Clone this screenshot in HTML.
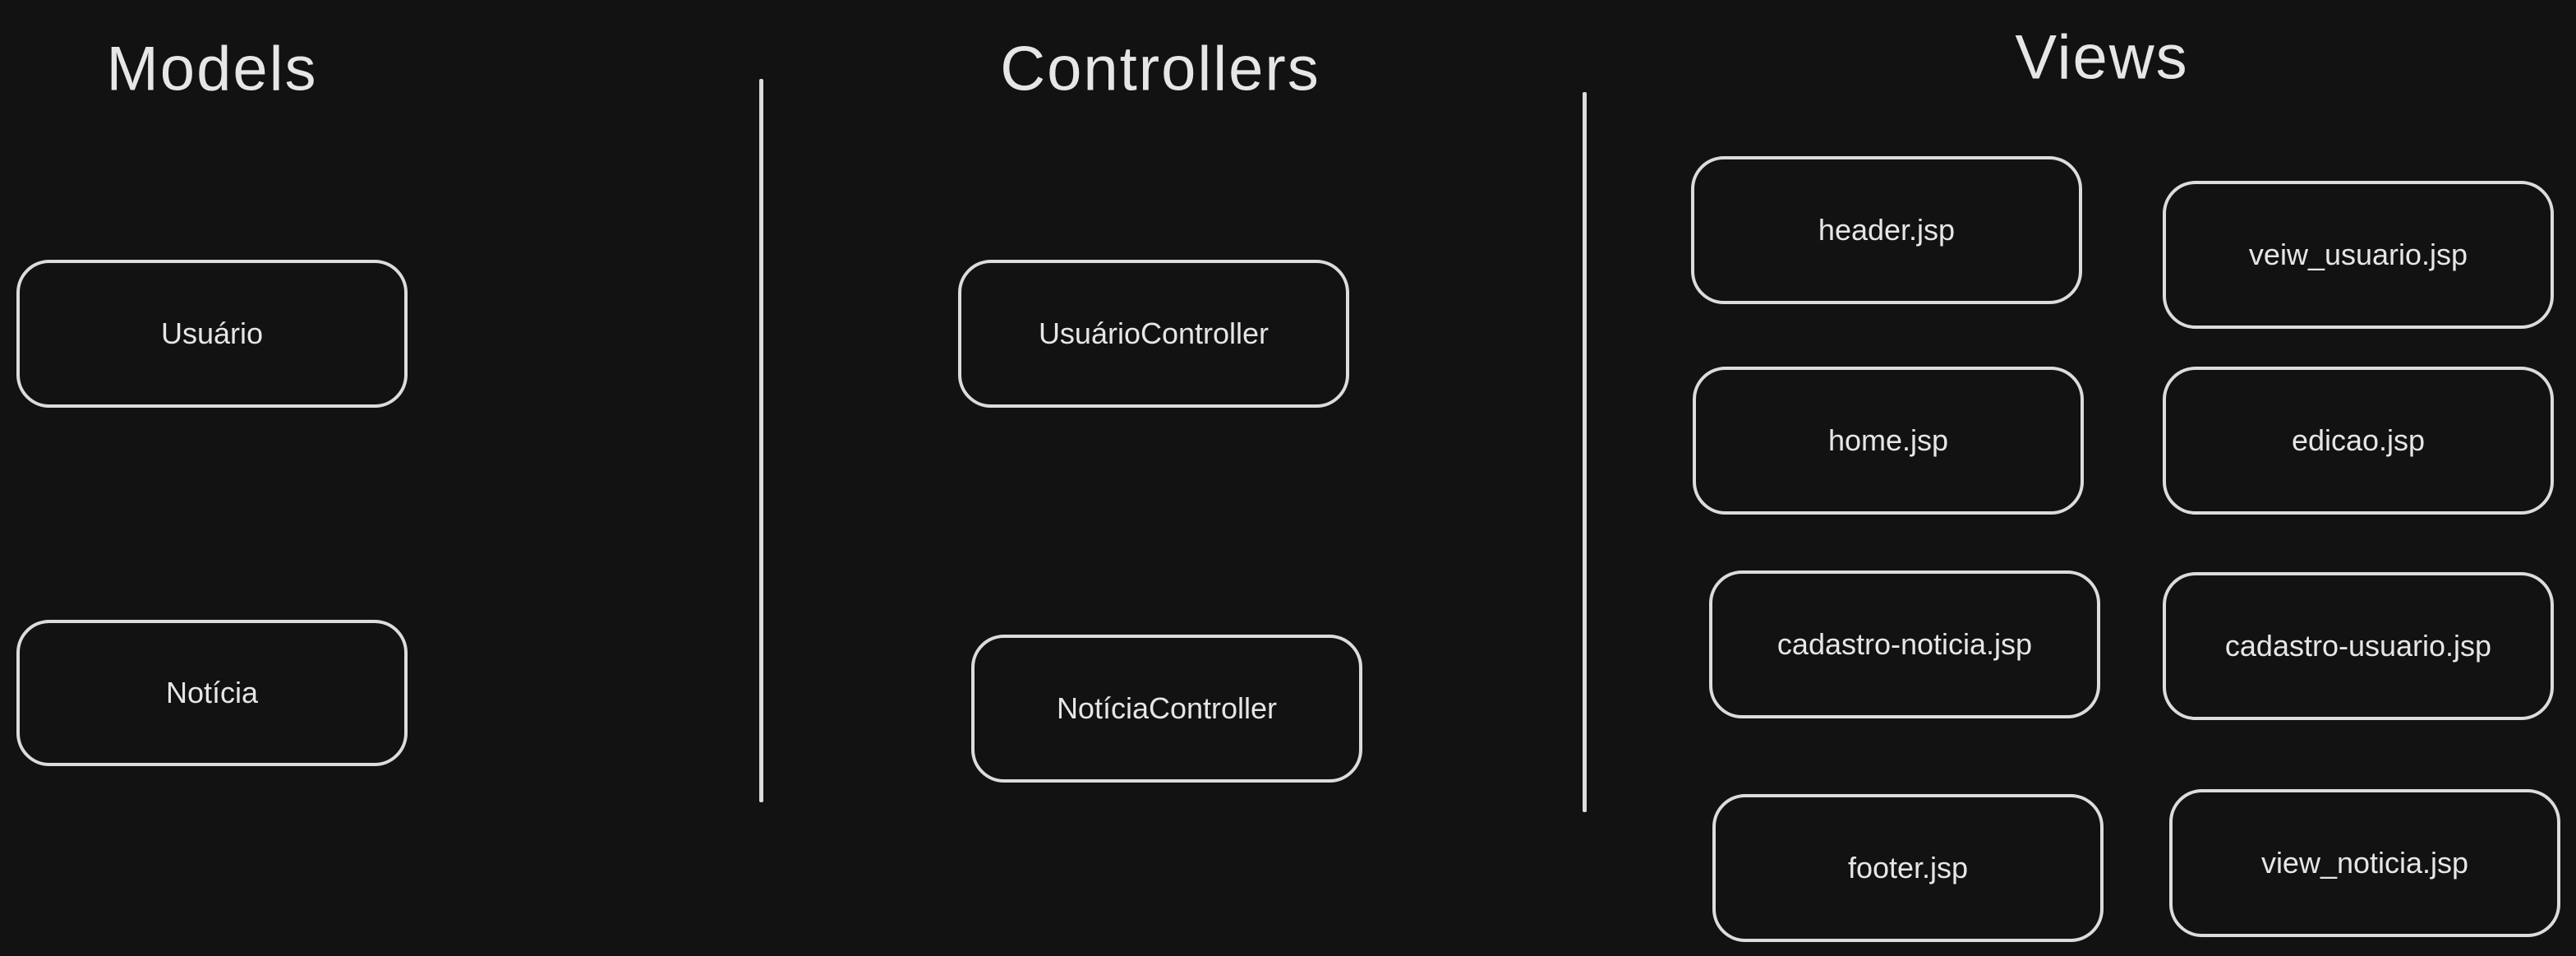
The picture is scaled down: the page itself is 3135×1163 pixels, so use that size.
<!DOCTYPE html>
<html><head><meta charset="utf-8"><style>
html,body{margin:0;padding:0;background:#121212;}
body{width:3135px;height:1163px;position:relative;overflow:hidden;font-family:"Liberation Sans","DejaVu Sans",sans-serif;color:#e6e6e6;}
.t{position:absolute;font-size:76px;transform:translate(-50%,-50%);white-space:nowrap;letter-spacing:2px;}
.b{position:absolute;box-sizing:border-box;border:4px solid #dcdcdc;border-radius:40px;display:flex;align-items:center;justify-content:center;font-size:36px;white-space:nowrap;}
.l{position:absolute;width:5px;background:#dcdcdc;border-radius:2px;}
</style></head><body>
<div class="t" style="left:258px;top:84px">Models</div>
<div class="t" style="left:1412px;top:84px">Controllers</div>
<div class="t" style="left:2558px;top:70px">Views</div>
<div class="l" style="left:924px;top:96px;height:880px"></div>
<div class="l" style="left:1926px;top:112px;height:876px"></div>
<div class="b" style="left:20px;top:316px;width:476px;height:180px">Usuário</div>
<div class="b" style="left:20px;top:754px;width:476px;height:178px">Notícia</div>
<div class="b" style="left:1166px;top:316px;width:476px;height:180px">UsuárioController</div>
<div class="b" style="left:1182px;top:772px;width:476px;height:180px">NotíciaController</div>
<div class="b" style="left:2058px;top:190px;width:476px;height:180px">header.jsp</div>
<div class="b" style="left:2632px;top:220px;width:476px;height:180px">veiw_usuario.jsp</div>
<div class="b" style="left:2060px;top:446px;width:476px;height:180px">home.jsp</div>
<div class="b" style="left:2632px;top:446px;width:476px;height:180px">edicao.jsp</div>
<div class="b" style="left:2080px;top:694px;width:476px;height:180px">cadastro-noticia.jsp</div>
<div class="b" style="left:2632px;top:696px;width:476px;height:180px">cadastro-usuario.jsp</div>
<div class="b" style="left:2084px;top:966px;width:476px;height:180px">footer.jsp</div>
<div class="b" style="left:2640px;top:960px;width:476px;height:180px">view_noticia.jsp</div>
</body></html>
